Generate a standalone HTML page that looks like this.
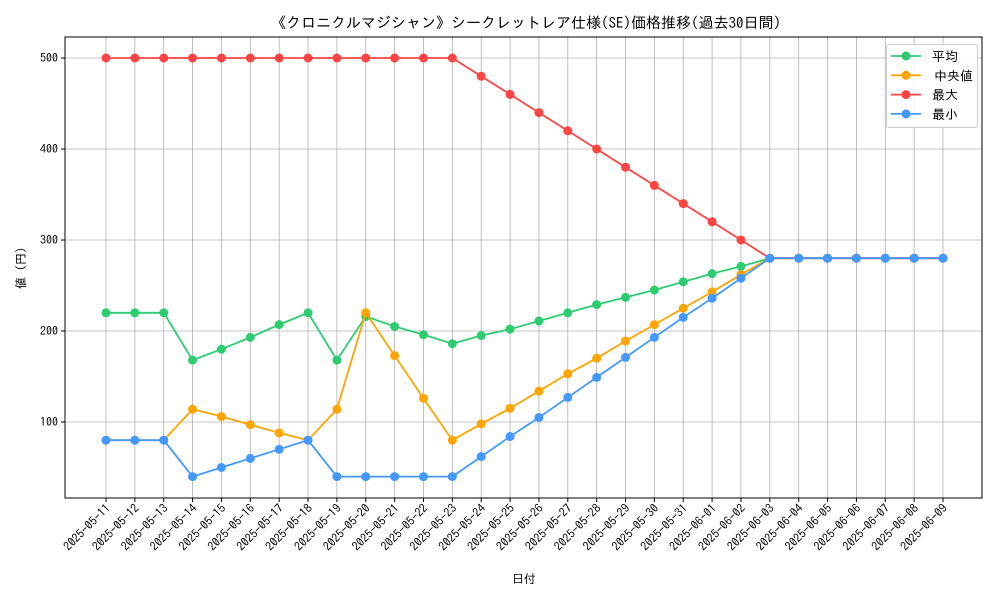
<!DOCTYPE html>
<html><head><meta charset="utf-8">
<style>
body{margin:0;background:#fff;}
svg text{font-family:"IPAGothic","Noto Sans CJK JP",sans-serif;fill:#000;}
</style></head>
<body>
<svg id="chart" width="1000" height="600" xmlns="http://www.w3.org/2000/svg"></svg>
<script>
const dates=["2025-05-11","2025-05-12","2025-05-13","2025-05-14","2025-05-15","2025-05-16","2025-05-17","2025-05-18","2025-05-19","2025-05-20","2025-05-21","2025-05-22","2025-05-23","2025-05-24","2025-05-25","2025-05-26","2025-05-27","2025-05-28","2025-05-29","2025-05-30","2025-05-31","2025-06-01","2025-06-02","2025-06-03","2025-06-04","2025-06-05","2025-06-06","2025-06-07","2025-06-08","2025-06-09"];
const avgVals=[220,220,220,168,180,193,207,220,168,216,205,196,186,195,202,211,220,229,237,245,254,263,271,280,280,280,280,280,280,280];
const medVals=[80,80,80,114,106,97,88,80,114,220,173,126,80,98,115,134,153,170,189,207,225,243,262,280,280,280,280,280,280,280];
const maxVals=[500,500,500,500,500,500,500,500,500,500,500,500,500,480,460,440,420,400,380,360,340,320,300,280,280,280,280,280,280,280];
const minVals=[80,80,80,40,50,60,70,80,40,40,40,40,40,62,84,105,127,149,171,193,215,236,258,280,280,280,280,280,280,280];
const yTicks=[100,200,300,400,500];
const seriesNames=["平均","中央値","最大","最小"];

const NS="http://www.w3.org/2000/svg";
const svg=document.getElementById('chart');
const L=65,R=982,T=37,B=498;
const xs=i=>106+i*(943-106)/(dates.length-1);
const ys=v=>513-v*0.91;
function el(tag,attrs,parent){const e=document.createElementNS(NS,tag);for(const k in attrs)e.setAttribute(k,attrs[k]);(parent||svg).appendChild(e);return e;}

const grid=el('g',{});


dates.forEach((d,i)=>{el('line',{x1:xs(i),x2:xs(i),y1:T,y2:B,stroke:'#b0b0b0','stroke-width':0.8},grid);});
yTicks.forEach(v=>{el('line',{x1:L,x2:R,y1:ys(v),y2:ys(v),stroke:'#b0b0b0','stroke-width':0.8},grid);});

const frame=el('rect',{x:L,y:T,width:R-L,height:B-T,fill:'none',stroke:'#000','stroke-width':1});



yTicks.forEach(v=>{
  el('line',{x1:L-4,x2:L,y1:ys(v),y2:ys(v),stroke:'#000'});
  const t=el('text',{x:L-7,y:ys(v)+4,'text-anchor':'end','font-size':12});
  t.textContent=v;
  
  
});
dates.forEach((d,i)=>{
  el('line',{x1:xs(i),x2:xs(i),y1:B,y2:B+4,stroke:'#000'});
  const t=el('text',{x:xs(i)+5,y:B+11,'text-anchor':'end','font-size':12,transform:`rotate(-45 ${xs(i)+5} ${B+11})`});
  t.textContent=d;
  
  
});

const allSeries=[avgVals,medVals,maxVals,minVals];
const colors=['#2ecc71','#ffa500','#ff4444','#4499ff'];
const sNames=['series-average','series-median','series-max','series-min'];
allSeries.forEach((vals,si)=>{
  const g=el('g',{});
  
  
  el('polyline',{points:vals.map((v,i)=>xs(i)+','+ys(v)).join(' '),fill:'none',stroke:colors[si],'stroke-width':1.8},g);
  vals.forEach((v,i)=>{
    const c=el('circle',{cx:xs(i),cy:ys(v),r:4.5,fill:colors[si]},g);
    
    
  });
});

const lg=el('g',{});


el('rect',{x:886.5,y:44.5,width:91,height:83,rx:3,fill:'#fff','fill-opacity':0.85,stroke:'#ccc'},lg);
seriesNames.forEach((n,i)=>{
  const y=56+i*19.3;
  const e=el('g',{},lg);
  
  
  el('line',{x1:891,x2:921,y1:y,y2:y,stroke:colors[i],'stroke-width':1.8},e);
  el('circle',{cx:906,cy:y,r:4.5,fill:colors[i]},e);
  const t=el('text',{x:i==1?934:932,y:y+5,'font-size':13},e);
  t.textContent=n;
});

const title=el('text',{x:526,y:28,'text-anchor':'middle','font-size':15});
title.textContent='《クロニクルマジシャン》シークレットレア仕様(SE)価格推移(過去30日間)';


const xl=el('text',{x:524,y:583,'text-anchor':'middle','font-size':12});
xl.textContent='日付';


const yl=el('text',{x:25,y:268,'text-anchor':'middle','font-size':12,transform:'rotate(-90 25 268)'});
yl.textContent='値 (円)';


</script>
</body></html>
